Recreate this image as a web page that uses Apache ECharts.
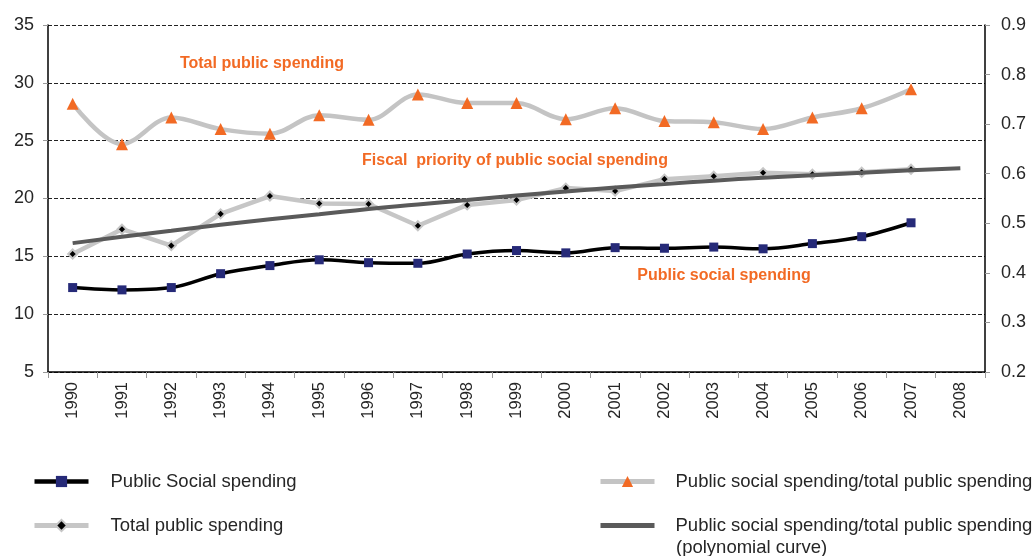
<!DOCTYPE html>
<html>
<head>
<meta charset="utf-8">
<title>Public spending</title>
<script src="https://cdn.jsdelivr.net/npm/echarts@6/dist/echarts.min.js"></script>
<style>
    html, body { margin: 0; padding: 0; background: #fff; }
    #chartDiv { width: 1036px; height: 556px; }
</style>
</head>
<body>
<div id="chartDiv"></div>
<script>
// categories
var years = ['1990', '1991', '1992', '1993', '1994', '1995', '1996', '1997', '1998', '1999',
    '2000', '2001', '2002', '2003', '2004', '2005', '2006', '2007', '2008'];
// left axis (% of GDP)
var socialSpending = [12.3, 12.1, 12.3, 13.5, 14.2, 14.7, 14.45, 14.4, 15.2, 15.5,
    15.3, 15.75, 15.7, 15.8, 15.65, 16.1, 16.7, 17.9, null];
var totalSpending = [28.2, 24.7, 27.0, 26.0, 25.6, 27.2, 26.8, 29.0, 28.25, 28.25,
    26.85, 27.8, 26.7, 26.6, 26.0, 27.0, 27.8, 29.45, null];
// right axis (ratio)
var fiscalPriority = [0.438, 0.488, 0.455, 0.519, 0.555, 0.540, 0.539, 0.495, 0.537, 0.547,
    0.571, 0.565, 0.589, 0.595, 0.602, 0.599, 0.603, 0.609, null];
var polyCurve = [0.460, 0.473, 0.485, 0.497, 0.508, 0.518, 0.529, 0.538, 0.547, 0.556,
    0.564, 0.572, 0.579, 0.586, 0.592, 0.597, 0.602, 0.607, 0.611];
// tick labels
var leftTicks = { min: 5, max: 35, interval: 5 };
var rightTicks = { min: 0.2, max: 0.9, interval: 0.1 };

var orange = '#f26a24';
var labelColor = '#262626';
var fontName = 'Liberation Sans, Arial, sans-serif';

var names = {
    social: 'Public Social spending',
    total: 'Total public spending',
    ratio: 'Public social spending/total public spending',
    poly: 'Public social spending/total public spending '
};

var option = {
    animation: false,
    backgroundColor: '#fff',
    grid: { left: 48, right: 51, top: 25, bottom: 184 },
    legend: [
        {
            left: 27, top: 467, orient: 'vertical',
            itemWidth: 54, itemHeight: 14, itemGap: 25,
            textStyle: { fontFamily: fontName, fontSize: 18.5, color: labelColor, padding: [0, 0, 0, 17] },
            data: [
                { name: names.social, lineStyle: { width: 4.5 } },
                { name: names.total, lineStyle: { width: 5 } }
            ]
        },
        {
            left: 593, top: 467, orient: 'vertical',
            itemWidth: 54, itemHeight: 14, itemGap: 25,
            textStyle: { fontFamily: fontName, fontSize: 18.5, color: labelColor, padding: [0, 0, 0, 16] },
            data: [
                { name: names.ratio, lineStyle: { width: 5 } },
                { name: names.poly, lineStyle: { width: 5 }, itemStyle: { opacity: 0 } }
            ]
        }
    ],
    graphic: [
        { type: 'text', left: 676, top: 538, style: { text: '(polynomial curve)', font: '18.5px ' + fontName, fill: labelColor } },
        { type: 'text', x: 262, y: 64, style: { text: 'Total public spending', font: 'bold 16px ' + fontName, fill: orange, align: 'center', verticalAlign: 'middle' } },
        { type: 'text', x: 515, y: 161, style: { text: 'Fiscal  priority of public social spending', font: 'bold 16px ' + fontName, fill: orange, align: 'center', verticalAlign: 'middle' } },
        { type: 'text', x: 724, y: 276, style: { text: 'Public social spending', font: 'bold 16px ' + fontName, fill: orange, align: 'center', verticalAlign: 'middle' } }
    ],
    xAxis: {
        type: 'category',
        boundaryGap: true,
        data: years,
        axisLine: { lineStyle: { color: '#000', width: 1.5 } },
        axisTick: { show: true, interval: 0, length: 6, lineStyle: { color: '#999' } },
        axisLabel: { interval: 0, rotate: 90, margin: 10, fontFamily: fontName, fontSize: 16.5, color: labelColor },
        splitLine: { show: false }
    },
    yAxis: [
        {
            type: 'value',
            min: leftTicks.min, max: leftTicks.max, interval: leftTicks.interval,
            axisLine: { show: true, lineStyle: { color: '#000', width: 1.5 } },
            axisTick: { show: true, length: 5, lineStyle: { color: '#999' } },
            axisLabel: { margin: 14, fontFamily: fontName, fontSize: 18, color: labelColor },
            splitLine: { show: true, lineStyle: { color: '#222', type: [4, 2], width: 1 } }
        },
        {
            type: 'value',
            min: rightTicks.min, max: rightTicks.max, interval: rightTicks.interval,
            position: 'right',
            axisLine: { show: true, lineStyle: { color: '#000', width: 1.5 } },
            axisTick: { show: true, length: 5, lineStyle: { color: '#999' } },
            axisLabel: { margin: 16, fontFamily: fontName, fontSize: 18, color: labelColor,
                formatter: function (v) { return v.toFixed(1); } },
            splitLine: { show: false }
        }
    ],
    series: [
        {
            name: names.total,
            type: 'line',
            yAxisIndex: 1,
            data: fiscalPriority,
            symbol: 'diamond',
            symbolSize: 9,
            lineStyle: { color: '#c6c6c6', width: 4.5 },
            itemStyle: { color: '#000', borderColor: '#c6c6c6', borderWidth: 2 },
            z: 2
        },
        {
            name: names.poly,
            type: 'line',
            yAxisIndex: 1,
            data: polyCurve,
            smooth: true,
            showSymbol: false,
            symbol: 'none',
            lineStyle: { color: '#5a5a5a', width: 4 },
            itemStyle: { color: '#5a5a5a' },
            z: 3
        },
        {
            name: names.ratio,
            type: 'line',
            yAxisIndex: 0,
            data: totalSpending,
            smooth: 0.35,
            symbol: 'triangle',
            symbolSize: 12,
            lineStyle: { color: '#c4c4c4', width: 4.5 },
            itemStyle: { color: orange },
            z: 4
        },
        {
            name: names.social,
            type: 'line',
            yAxisIndex: 0,
            data: socialSpending,
            smooth: 0.35,
            symbol: 'rect',
            symbolSize: 9,
            lineStyle: { color: '#000', width: 3.5 },
            itemStyle: { color: '#262a78' },
            z: 5
        }
    ]
};

var myChart_1 = echarts.init(document.getElementById('chartDiv'));
myChart_1.setOption(option);
</script>
</body>
</html>
